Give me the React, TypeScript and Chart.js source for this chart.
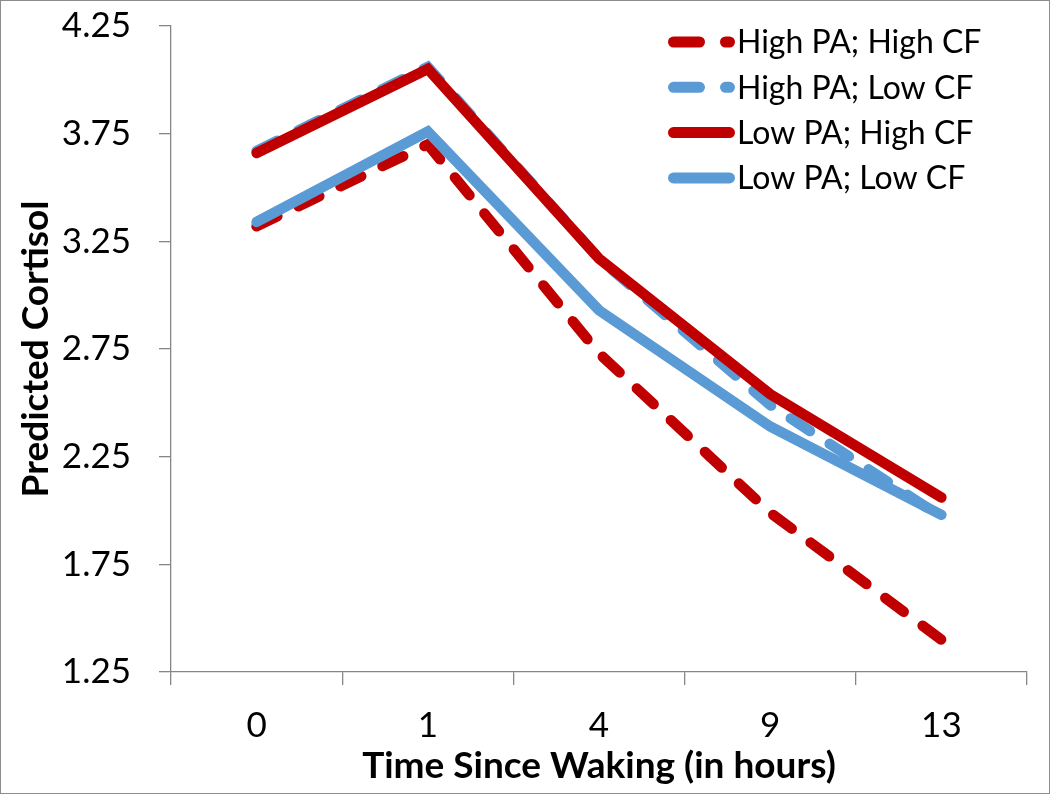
import React, { useEffect, useRef } from "react";
import { Chart, registerables } from "chart.js";

Chart.register(...registerables);

const categories = ["0", "1", "4", "9", "13"];
const highPAHighCF = [3.32, 3.70, 2.73, 1.99, 1.40];
const highPALowCF = [3.67, 4.06, 3.17, 2.49, 1.97];
const lowPAHighCF = [3.66, 4.05, 3.17, 2.54, 2.06];
const lowPALowCF = [3.34, 3.76, 2.93, 2.39, 1.98];
const seriesNames = ["High PA; High CF", "High PA; Low CF", "Low PA; High CF", "Low PA; Low CF"];
const yTicks = [1.25, 1.75, 2.25, 2.75, 3.25, 3.75, 4.25];

const RED = "#C00000";
const BLUE = "#5B9BD5";
const AXIS = "#868686";
const FONT = "Lato";

const legendPlugin = {
  id: "customLegend",
  afterDraw(chart: any) {
    const ctx = chart.ctx;
    ctx.save();
    chart.data.datasets.forEach((ds: any, i: number) => {
      const y = 42 + i * 45.3;
      ctx.beginPath();
      ctx.lineWidth = 11;
      ctx.lineCap = "round";
      ctx.strokeStyle = ds.borderColor;
      ctx.setLineDash(ds.borderDash && ds.borderDash.length ? [26, 26] : []);
      ctx.moveTo(673.5, y);
      ctx.lineTo(729.5, y);
      ctx.stroke();
      ctx.setLineDash([]);
      ctx.fillStyle = "#000";
      ctx.font = `32px ${FONT}`;
      ctx.textAlign = "left";
      ctx.textBaseline = "middle";
      ctx.fillText(ds.label, 737, y + 1);
    });
    ctx.restore();
  },
};

export default function App() {
  const ref = useRef<HTMLCanvasElement | null>(null);
  useEffect(() => {
    if (!ref.current) return;
    const mk = (label: string, data: number[], color: string, dashed: boolean, order: number) => ({
      label,
      data,
      borderColor: color,
      backgroundColor: color,
      borderWidth: 10.5,
      borderDash: dashed ? [23, 23.5] : [],
      borderCapStyle: "round",
      borderJoinStyle: "miter",
      pointRadius: 0,
      tension: 0,
      fill: false,
      order,
    });
    const chart = new Chart(ref.current, {
      type: "line",
      data: {
        labels: categories,
        datasets: [
          mk(seriesNames[0], highPAHighCF, RED, true, 4),
          mk(seriesNames[1], highPALowCF, BLUE, true, 3),
          mk(seriesNames[2], lowPAHighCF, RED, false, 2),
          mk(seriesNames[3], lowPALowCF, BLUE, false, 1),
        ] as any,
      },
      options: {
        responsive: false,
        animation: false,
        layout: { padding: { left: 0, right: 23, top: 26, bottom: 0 } },
        plugins: { legend: { display: false }, tooltip: { enabled: false } },
        scales: {
          x: {
            type: "category",
            offset: true,
            grid: { offset: true, drawOnChartArea: false, color: AXIS, tickLength: 13, lineWidth: 1.3 },
            border: { color: AXIS, width: 1.3 },
            ticks: { color: "#000", font: { family: FONT, size: 35 }, padding: 20, maxRotation: 0 },
            title: {
              display: true,
              text: "Time Since Waking (in hours)",
              color: "#000",
              font: { family: FONT, size: 37, weight: "bold", lineHeight: 1.2 },
              padding: { top: 0, bottom: 6 },
            },
            afterFit(scale: any) {
              scale.height = 122;
              scale.paddingLeft = 0;
              scale.paddingRight = 0;
            },
          },
          y: {
            type: "linear",
            min: 1.25,
            max: 4.25,
            afterBuildTicks(scale: any) {
              scale.ticks = yTicks.map((v) => ({ value: v }));
            },
            grid: { drawOnChartArea: false, color: AXIS, tickLength: 12, lineWidth: 1.3 },
            border: { color: AXIS, width: 1.3 },
            ticks: {
              color: "#000",
              font: { family: FONT, size: 35 },
              padding: 28,
              callback: (v: any) => Number(v).toFixed(2),
            },
            title: {
              display: true,
              text: "Predicted Cortisol",
              color: "#000",
              font: { family: FONT, size: 37, weight: "bold", lineHeight: 1.2 },
              padding: { top: 14, bottom: 0 },
            },
            afterFit(scale: any) {
              scale.width = 171;
              scale.paddingTop = 0;
              scale.paddingBottom = 0;
            },
          },
        },
      } as any,
      plugins: [legendPlugin],
    });
    return () => chart.destroy();
  }, []);

  return (
    <div style={{ position: "absolute", left: 0, top: 0, width: 1050, height: 794, background: "#fff" }}>
      <canvas ref={ref} width={1050} height={794} style={{ display: "block", width: 1050, height: 794 }} />
      <div
        style={{
          position: "absolute",
          left: 0,
          top: 0,
          width: 1048,
          height: 792,
          border: "1px solid #8c8c8c",
          pointerEvents: "none",
        }}
      />
    </div>
  );
}
